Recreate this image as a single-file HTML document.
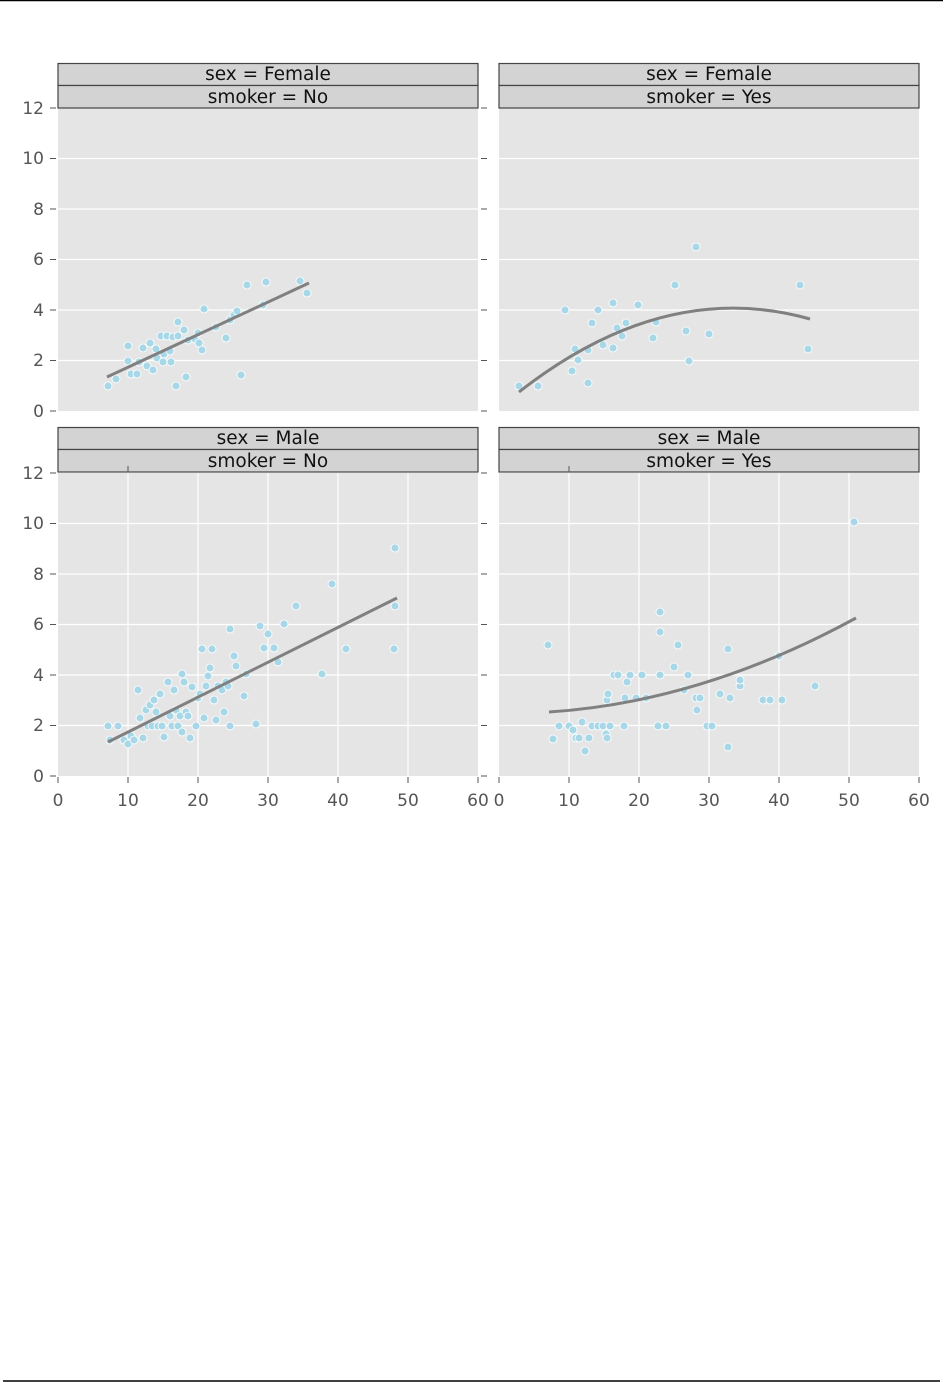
<!DOCTYPE html>
<html><head><meta charset="utf-8"><style>
html,body{margin:0;padding:0;background:#fff;}
svg{display:block;font-family:"DejaVu Sans","Liberation Sans",sans-serif;}
</style></head><body>
<svg width="950" height="1382" viewBox="0 0 950 1382" xmlns="http://www.w3.org/2000/svg">
<line x1="0" y1="0.5" x2="943" y2="0.5" stroke="#000" stroke-width="1.5"/>
<line x1="3" y1="1381" x2="940" y2="1381" stroke="#000" stroke-width="1.5"/>

<g fill="#e5e5e5">
<rect x="58" y="108" width="420" height="303"/>
<rect x="499" y="108" width="420" height="303"/>
<rect x="58" y="473" width="420" height="303"/>
<rect x="499" y="473" width="420" height="303"/>
</g>
<g stroke="#fff" stroke-width="1.2">
<line x1="58" x2="478" y1="158.5" y2="158.5"/><line x1="58" x2="478" y1="209" y2="209"/><line x1="58" x2="478" y1="259.5" y2="259.5"/><line x1="58" x2="478" y1="310" y2="310"/><line x1="58" x2="478" y1="360.5" y2="360.5"/>
<line x1="499" x2="919" y1="158.5" y2="158.5"/><line x1="499" x2="919" y1="209" y2="209"/><line x1="499" x2="919" y1="259.5" y2="259.5"/><line x1="499" x2="919" y1="310" y2="310"/><line x1="499" x2="919" y1="360.5" y2="360.5"/>
<line x1="58" x2="478" y1="523.5" y2="523.5"/><line x1="58" x2="478" y1="574" y2="574"/><line x1="58" x2="478" y1="624.5" y2="624.5"/><line x1="58" x2="478" y1="675" y2="675"/><line x1="58" x2="478" y1="725.5" y2="725.5"/>
<line x1="499" x2="919" y1="523.5" y2="523.5"/><line x1="499" x2="919" y1="574" y2="574"/><line x1="499" x2="919" y1="624.5" y2="624.5"/><line x1="499" x2="919" y1="675" y2="675"/><line x1="499" x2="919" y1="725.5" y2="725.5"/>
<line x1="128" x2="128" y1="473" y2="776"/><line x1="198" x2="198" y1="473" y2="776"/><line x1="268" x2="268" y1="473" y2="776"/><line x1="338" x2="338" y1="473" y2="776"/><line x1="408" x2="408" y1="473" y2="776"/>
<line x1="569" x2="569" y1="473" y2="776"/><line x1="639" x2="639" y1="473" y2="776"/><line x1="709" x2="709" y1="473" y2="776"/><line x1="779" x2="779" y1="473" y2="776"/><line x1="849" x2="849" y1="473" y2="776"/>
</g>

<g fill="#d3d3d3" stroke="#444" stroke-width="1.2">
<rect x="58" y="63.5" width="420" height="22"/><rect x="58" y="85.5" width="420" height="22.5"/>
<rect x="499" y="63.5" width="420" height="22"/><rect x="499" y="85.5" width="420" height="22.5"/>
<rect x="58" y="427.5" width="420" height="22"/><rect x="58" y="449.5" width="420" height="22.5"/>
<rect x="499" y="427.5" width="420" height="22"/><rect x="499" y="449.5" width="420" height="22.5"/>
</g>
<g font-size="18.5" fill="#111" text-anchor="middle">
<text x="268" y="80">sex = Female</text><text x="268" y="103">smoker = No</text>
<text x="709" y="80">sex = Female</text><text x="709" y="103">smoker = Yes</text>
<text x="268" y="444">sex = Male</text><text x="268" y="467">smoker = No</text>
<text x="709" y="444">sex = Male</text><text x="709" y="467">smoker = Yes</text>
</g>

<g stroke="#555" stroke-width="1">
<line x1="50" x2="56" y1="108" y2="108"/><line x1="50" x2="56" y1="158.5" y2="158.5"/><line x1="50" x2="56" y1="209" y2="209"/><line x1="50" x2="56" y1="259.5" y2="259.5"/><line x1="50" x2="56" y1="310" y2="310"/><line x1="50" x2="56" y1="360.5" y2="360.5"/><line x1="50" x2="56" y1="411" y2="411"/>
<line x1="50" x2="56" y1="473" y2="473"/><line x1="50" x2="56" y1="523.5" y2="523.5"/><line x1="50" x2="56" y1="574" y2="574"/><line x1="50" x2="56" y1="624.5" y2="624.5"/><line x1="50" x2="56" y1="675" y2="675"/><line x1="50" x2="56" y1="725.5" y2="725.5"/><line x1="50" x2="56" y1="776" y2="776"/>
<line x1="481" x2="487" y1="108" y2="108"/><line x1="481" x2="487" y1="158.5" y2="158.5"/><line x1="481" x2="487" y1="209" y2="209"/><line x1="481" x2="487" y1="259.5" y2="259.5"/><line x1="481" x2="487" y1="310" y2="310"/><line x1="481" x2="487" y1="360.5" y2="360.5"/><line x1="481" x2="487" y1="411" y2="411"/>
<line x1="481" x2="487" y1="473" y2="473"/><line x1="481" x2="487" y1="523.5" y2="523.5"/><line x1="481" x2="487" y1="574" y2="574"/><line x1="481" x2="487" y1="624.5" y2="624.5"/><line x1="481" x2="487" y1="675" y2="675"/><line x1="481" x2="487" y1="725.5" y2="725.5"/><line x1="481" x2="487" y1="776" y2="776"/>
<line x1="58" x2="58" y1="777" y2="783"/><line x1="128" x2="128" y1="777" y2="783"/><line x1="198" x2="198" y1="777" y2="783"/><line x1="268" x2="268" y1="777" y2="783"/><line x1="338" x2="338" y1="777" y2="783"/><line x1="408" x2="408" y1="777" y2="783"/><line x1="478" x2="478" y1="777" y2="783"/>
<line x1="499" x2="499" y1="777" y2="783"/><line x1="569" x2="569" y1="777" y2="783"/><line x1="639" x2="639" y1="777" y2="783"/><line x1="709" x2="709" y1="777" y2="783"/><line x1="779" x2="779" y1="777" y2="783"/><line x1="849" x2="849" y1="777" y2="783"/><line x1="919" x2="919" y1="777" y2="783"/>
<line x1="128" x2="128" y1="466" y2="472"/><line x1="569" x2="569" y1="466" y2="472"/>
</g>
<g font-size="17" fill="#555" text-anchor="end">
<text x="44" y="114">12</text><text x="44" y="164">10</text><text x="44" y="215">8</text><text x="44" y="265">6</text><text x="44" y="316">4</text><text x="44" y="366">2</text><text x="44" y="417">0</text>
<text x="44" y="479">12</text><text x="44" y="529">10</text><text x="44" y="580">8</text><text x="44" y="630">6</text><text x="44" y="681">4</text><text x="44" y="731">2</text><text x="44" y="782">0</text>
</g>
<g font-size="17" fill="#555" text-anchor="middle">
<text x="58" y="806">0</text><text x="128" y="806">10</text><text x="198" y="806">20</text><text x="268" y="806">30</text><text x="338" y="806">40</text><text x="408" y="806">50</text><text x="478" y="806">60</text>
<text x="499" y="806">0</text><text x="569" y="806">10</text><text x="639" y="806">20</text><text x="709" y="806">30</text><text x="779" y="806">40</text><text x="849" y="806">50</text><text x="919" y="806">60</text>
</g>

<g fill="#a8d8e8" stroke="#fff" stroke-width="0.8">
<circle cx="108" cy="386" r="4"/><circle cx="116" cy="379" r="4"/><circle cx="128" cy="346" r="4"/><circle cx="128" cy="361" r="4"/><circle cx="131" cy="374" r="4"/><circle cx="137" cy="374" r="4"/><circle cx="139" cy="362" r="4"/><circle cx="143" cy="348" r="4"/><circle cx="147" cy="366" r="4"/><circle cx="150" cy="343" r="4"/><circle cx="153" cy="370" r="4"/><circle cx="157" cy="358" r="4"/><circle cx="161" cy="336" r="4"/><circle cx="164" cy="354" r="4"/><circle cx="167" cy="336" r="4"/><circle cx="170" cy="351" r="4"/><circle cx="171" cy="362" r="4"/><circle cx="173" cy="337" r="4"/><circle cx="176" cy="386" r="4"/><circle cx="178" cy="322" r="4"/><circle cx="178" cy="336" r="4"/><circle cx="184" cy="330" r="4"/><circle cx="186" cy="377" r="4"/><circle cx="188" cy="340" r="4"/><circle cx="195" cy="339" r="4"/><circle cx="199" cy="343" r="4"/><circle cx="202" cy="350" r="4"/><circle cx="204" cy="309" r="4"/><circle cx="216" cy="327" r="4"/><circle cx="226" cy="338" r="4"/><circle cx="230" cy="320" r="4"/><circle cx="234" cy="315" r="4"/><circle cx="237" cy="311" r="4"/><circle cx="241" cy="375" r="4"/><circle cx="247" cy="285" r="4"/><circle cx="263" cy="305" r="4"/><circle cx="266" cy="282" r="4"/><circle cx="300" cy="281" r="4"/><circle cx="307" cy="293" r="4"/><circle cx="198" cy="333" r="4"/><circle cx="163" cy="362" r="4"/><circle cx="156" cy="349" r="4"/>

<circle cx="519" cy="386" r="4"/><circle cx="538" cy="386" r="4"/><circle cx="565" cy="310" r="4"/><circle cx="572" cy="371" r="4"/><circle cx="575" cy="349" r="4"/><circle cx="578" cy="360" r="4"/><circle cx="588" cy="383" r="4"/><circle cx="588" cy="350" r="4"/><circle cx="592" cy="323" r="4"/><circle cx="598" cy="310" r="4"/><circle cx="603" cy="345" r="4"/><circle cx="613" cy="303" r="4"/><circle cx="613" cy="348" r="4"/><circle cx="617" cy="328" r="4"/><circle cx="622" cy="336" r="4"/><circle cx="626" cy="323" r="4"/><circle cx="638" cy="305" r="4"/><circle cx="653" cy="338" r="4"/><circle cx="656" cy="322" r="4"/><circle cx="675" cy="285" r="4"/><circle cx="686" cy="331" r="4"/><circle cx="689" cy="361" r="4"/><circle cx="696" cy="247" r="4"/><circle cx="709" cy="334" r="4"/><circle cx="800" cy="285" r="4"/><circle cx="808" cy="349" r="4"/>

<circle cx="108" cy="726" r="4"/><circle cx="110" cy="740" r="4"/><circle cx="118" cy="726" r="4"/><circle cx="124" cy="740" r="4"/><circle cx="128" cy="744" r="4"/><circle cx="131" cy="736" r="4"/><circle cx="134" cy="740" r="4"/><circle cx="138" cy="690" r="4"/><circle cx="140" cy="718" r="4"/><circle cx="143" cy="738" r="4"/><circle cx="146" cy="710" r="4"/><circle cx="148" cy="726" r="4"/><circle cx="150" cy="705" r="4"/><circle cx="152" cy="726" r="4"/><circle cx="154" cy="700" r="4"/><circle cx="156" cy="712" r="4"/><circle cx="158" cy="726" r="4"/><circle cx="160" cy="694" r="4"/><circle cx="162" cy="726" r="4"/><circle cx="164" cy="737" r="4"/><circle cx="168" cy="682" r="4"/><circle cx="170" cy="716" r="4"/><circle cx="172" cy="726" r="4"/><circle cx="174" cy="690" r="4"/><circle cx="176" cy="710" r="4"/><circle cx="178" cy="726" r="4"/><circle cx="180" cy="716" r="4"/><circle cx="182" cy="732" r="4"/><circle cx="182" cy="674" r="4"/><circle cx="184" cy="682" r="4"/><circle cx="186" cy="712" r="4"/><circle cx="188" cy="716" r="4"/><circle cx="190" cy="738" r="4"/><circle cx="192" cy="687" r="4"/><circle cx="196" cy="726" r="4"/><circle cx="198" cy="698" r="4"/><circle cx="200" cy="694" r="4"/><circle cx="202" cy="649" r="4"/><circle cx="204" cy="718" r="4"/><circle cx="206" cy="686" r="4"/><circle cx="208" cy="676" r="4"/><circle cx="210" cy="668" r="4"/><circle cx="212" cy="649" r="4"/><circle cx="214" cy="700" r="4"/><circle cx="216" cy="720" r="4"/><circle cx="218" cy="686" r="4"/><circle cx="222" cy="690" r="4"/><circle cx="224" cy="712" r="4"/><circle cx="226" cy="682" r="4"/><circle cx="228" cy="686" r="4"/><circle cx="230" cy="726" r="4"/><circle cx="230" cy="629" r="4"/><circle cx="234" cy="656" r="4"/><circle cx="236" cy="666" r="4"/><circle cx="244" cy="696" r="4"/><circle cx="246" cy="674" r="4"/><circle cx="256" cy="724" r="4"/><circle cx="260" cy="626" r="4"/><circle cx="264" cy="648" r="4"/><circle cx="268" cy="634" r="4"/><circle cx="274" cy="648" r="4"/><circle cx="278" cy="662" r="4"/><circle cx="284" cy="624" r="4"/><circle cx="296" cy="606" r="4"/><circle cx="322" cy="674" r="4"/><circle cx="332" cy="584" r="4"/><circle cx="346" cy="649" r="4"/><circle cx="395" cy="548" r="4"/><circle cx="395" cy="606" r="4"/><circle cx="394" cy="649" r="4"/>

<circle cx="548" cy="645" r="4"/><circle cx="553" cy="739" r="4"/><circle cx="559" cy="726" r="4"/><circle cx="569" cy="726" r="4"/><circle cx="573" cy="730" r="4"/><circle cx="576" cy="738" r="4"/><circle cx="579" cy="738" r="4"/><circle cx="582" cy="722" r="4"/><circle cx="585" cy="751" r="4"/><circle cx="589" cy="738" r="4"/><circle cx="592" cy="726" r="4"/><circle cx="598" cy="726" r="4"/><circle cx="603" cy="726" r="4"/><circle cx="606" cy="734" r="4"/><circle cx="607" cy="738" r="4"/><circle cx="607" cy="700" r="4"/><circle cx="608" cy="694" r="4"/><circle cx="610" cy="726" r="4"/><circle cx="614" cy="675" r="4"/><circle cx="618" cy="675" r="4"/><circle cx="624" cy="726" r="4"/><circle cx="625" cy="698" r="4"/><circle cx="627" cy="682" r="4"/><circle cx="630" cy="675" r="4"/><circle cx="636" cy="698" r="4"/><circle cx="642" cy="675" r="4"/><circle cx="646" cy="698" r="4"/><circle cx="658" cy="726" r="4"/><circle cx="660" cy="675" r="4"/><circle cx="660" cy="612" r="4"/><circle cx="660" cy="632" r="4"/><circle cx="666" cy="726" r="4"/><circle cx="674" cy="667" r="4"/><circle cx="678" cy="645" r="4"/><circle cx="684" cy="690" r="4"/><circle cx="688" cy="675" r="4"/><circle cx="696" cy="698" r="4"/><circle cx="697" cy="710" r="4"/><circle cx="700" cy="698" r="4"/><circle cx="707" cy="726" r="4"/><circle cx="712" cy="726" r="4"/><circle cx="720" cy="694" r="4"/><circle cx="728" cy="747" r="4"/><circle cx="728" cy="649" r="4"/><circle cx="730" cy="698" r="4"/><circle cx="740" cy="686" r="4"/><circle cx="740" cy="680" r="4"/><circle cx="763" cy="700" r="4"/><circle cx="770" cy="700" r="4"/><circle cx="782" cy="700" r="4"/><circle cx="779" cy="656" r="4"/><circle cx="815" cy="686" r="4"/><circle cx="854" cy="522" r="4"/>
</g>

<g fill="none" stroke="#808080" stroke-width="3">
<line x1="107" y1="377" x2="309" y2="283"/>
<path d="M519,392 Q664.5,278 810,319"/>
<line x1="108" y1="742" x2="397" y2="598"/>
<path d="M549,712 Q702,702 856,618"/>
</g>
</svg>
</body></html>
